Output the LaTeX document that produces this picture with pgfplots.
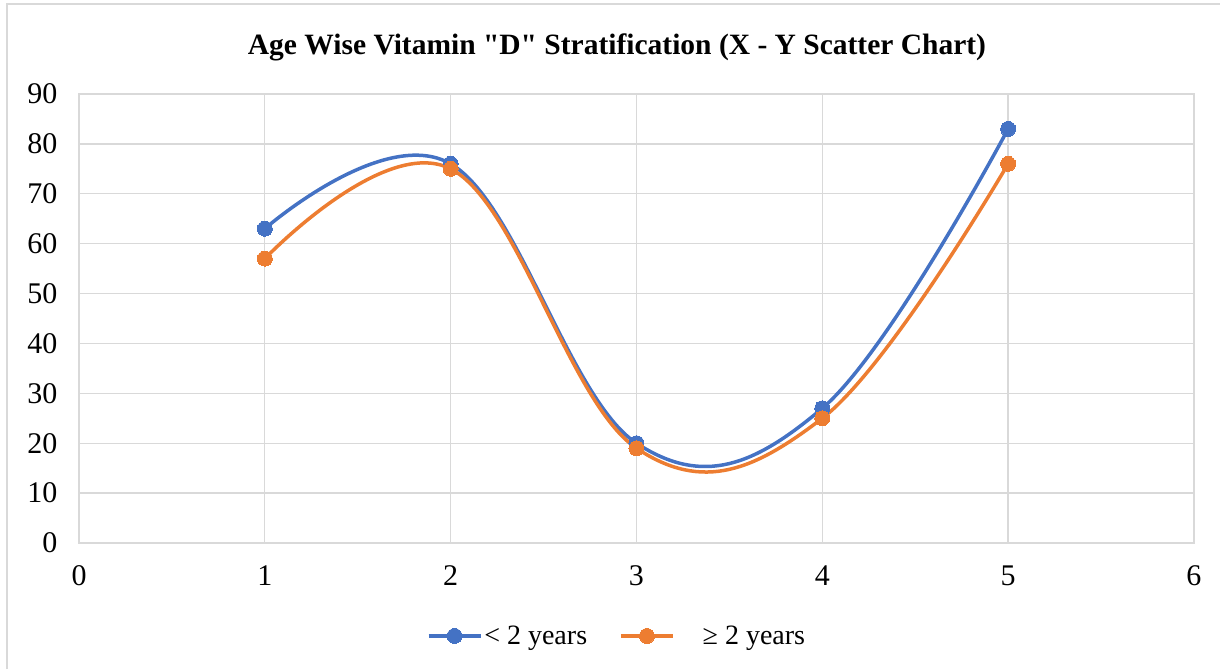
\documentclass[border=0pt]{standalone}
\usepackage{pgfplots}
\pgfplotsset{compat=1.18}
\usepackage{fontspec}
\setmainfont{Liberation Serif}[Ligatures=TeXOff]
\definecolor{cblue}{HTML}{4472C4}
\definecolor{corange}{HTML}{ED7D31}
\definecolor{cgrid}{HTML}{D9D9D9}
\begin{document}
\begin{tikzpicture}[x=1pt,y=1pt]
\useasboundingbox (0,0) rectangle (1220,669);
\draw[cgrid, line width=2.5pt] (7,0) -- (7,665) -- (1220,665);
\node[font=\fontsize{29.5}{34}\selectfont\bfseries] at (617,622) {Age Wise Vitamin "D" Stratification (X - Y Scatter Chart)};
\begin{axis}[
  at={(79pt,126pt)}, anchor=south west,
  scale only axis, width=1115pt, height=449pt,
  xmin=0, xmax=6, ymin=0, ymax=90,
  xtick={0,1,...,6}, ytick={0,10,...,90},
  grid=major, grid style={cgrid, line width=1.3pt},
  axis line style={cgrid, line width=1.3pt},
  major tick length=0pt,
  tick label style={font=\fontsize{30}{36}\selectfont},
  /pgf/number format/assume math mode=true,
  yticklabel style={xshift=-18pt},
  xticklabel style={yshift=-19pt},
  clip=false,
  legend style={at={(0.4825,-0.207)}, anchor=center, draw=none, fill=none,
    font=\fontsize{28}{34}\selectfont, legend columns=2,
    /tikz/every even column/.append style={column sep=30pt}},
  legend image code/.code={\draw[mark repeat=2,mark phase=2] plot coordinates {(0pt,0pt)(26pt,0pt)(52pt,0pt)};},
]
\addplot[cblue, line width=3.5pt, smooth, tension=0.65, mark=*, mark size=7.5pt, mark options={solid, line width=0pt}]
  coordinates {(1,63) (2,76) (3,20) (4,27) (5,83)};
\addlegendentry{< 2 years}
\addplot[corange, line width=3.5pt, smooth, tension=0.65, mark=*, mark size=7.5pt, mark options={solid, line width=0pt}]
  coordinates {(1,57) (2,75) (3,19) (4,25) (5,76)};
\addlegendentry{\hspace{26pt}≥ 2 years}
\end{axis}
\end{tikzpicture}
\end{document}
